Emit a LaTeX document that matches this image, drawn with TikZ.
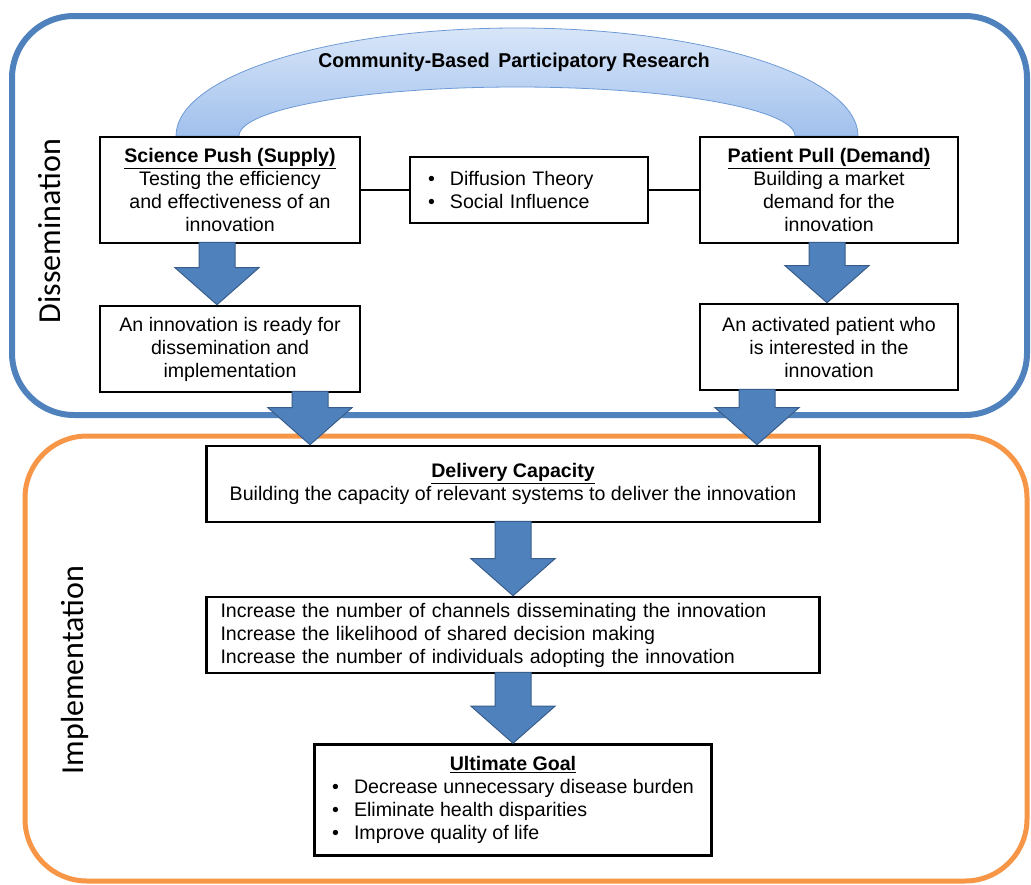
\documentclass[tikz,border=0pt]{standalone}
\usepackage{fontspec}
\setmainfont{Liberation Sans}
\newfontfamily\labelfont{Carlito}
\newfontfamily\narrowbold[FakeStretch=0.97]{Liberation Sans}
\usetikzlibrary{calc}
\definecolor{frameblue}{HTML}{4F81BD}
\definecolor{arrowfill}{HTML}{4F81BD}
\definecolor{arrowedge}{HTML}{385D8A}
\definecolor{frameorange}{HTML}{F79646}
\definecolor{archtop}{HTML}{D9E6F9}
\definecolor{archbot}{HTML}{A0C0EC}
\definecolor{archedge}{HTML}{6E9BD6}
\tikzset{
  box/.style={draw=black, line width=2.6pt, fill=white, align=center, inner sep=0pt,
    font=\fontsize{19.6}{23}\selectfont},
  blockarrow/.style={fill=arrowfill, draw=arrowedge, line width=1pt, line join=miter},
  link/.style={draw=black, line width=1.3pt},
  sectionlabel/.style={font=\labelfont\fontsize{32}{34}\selectfont, rotate=90},
}
\newcommand\bigarrow[2]{%
  \path let \p1=(#1), \p2=(#2) in
    [blockarrow] (\x1-18pt,\y1) -- (\x1+18pt,\y1) -- (\x1+18pt,\y2+37pt)
    -- (\x1+42pt,\y2+37pt) -- (\x1,\y2) -- (\x1-42pt,\y2+37pt)
    -- (\x1-18pt,\y2+37pt) -- cycle;}
\begin{document}
\begin{tikzpicture}[x=1pt,y=-1pt]
\useasboundingbox (0,0) rectangle (1031,884);
% frames
\draw[frameblue, line width=6pt, rounded corners=62pt] (12,16) rectangle (1027,415);
\draw[frameorange, line width=5pt, rounded corners=62pt] (25,436) rectangle (1027,881);
\node[sectionlabel] (dlab) at (50,231) {Dissemination};
\node[sectionlabel] (ilab) at (75,670) {Implementation};
% arch
\path[top color=archtop, bottom color=archbot, draw=archedge, line width=0.8pt]
  (176,136) arc[start angle=180, end angle=360, x radius=341, y radius=108]
  -- (795,136) arc[start angle=0, end angle=-180, x radius=278, y radius=49] -- cycle;
\node[font=\narrowbold\bfseries\fontsize{20}{22}\selectfont] (cbpr) at (514,62) {Community-Based\, Participatory Research};
% boxes
\node[box, minimum width=260pt, minimum height=106pt] (sp) at (230,190)
  {\underline{\textbf{Science Push (Supply)}}\\Testing the efficiency\\and effectiveness of an\\innovation};
\node[box, minimum height=66pt, text width=202pt, inner xsep=18pt, align=left] (diff) at (529,190)
  {\makebox[22pt][l]{\textbullet}Diffusion Theory\\\makebox[22pt][l]{\textbullet}Social Influence};
\node[box, minimum width=258pt, minimum height=106pt] (pp) at (829,190)
  {\underline{\textbf{Patient Pull (Demand)}}\\Building a market\\demand for the\\innovation};
\node[box, minimum width=260pt, minimum height=86pt] (ready) at (230,349)
  {An innovation is ready for\\dissemination and\\implementation};
\node[box, minimum width=258pt, minimum height=86pt] (act) at (829,347)
  {An activated patient who\\is interested in the\\innovation};
\node[box, minimum width=613pt, minimum height=76pt] (deliv) at (513,484)
  {\underline{\textbf{Delivery Capacity}}\\Building the capacity of relevant systems to deliver the innovation};
\node[box, minimum height=76pt, text width=585pt, inner xsep=14pt, align=left] (inc) at (513,635)
  {Increase the number of channels disseminating the innovation\\Increase the likelihood of shared decision making\\Increase the number of individuals adopting the innovation};
\node[box, minimum width=397pt, minimum height=111pt] (goal) at (513,800)
  {\begin{tabular}{@{}l@{}l@{}}
   \multicolumn{2}{c}{\underline{\textbf{Ultimate Goal}}}\\
   \makebox[22pt][l]{\textbullet}&Decrease unnecessary disease burden\\
   \makebox[22pt][l]{\textbullet}&Eliminate health disparities\\
   \makebox[22pt][l]{\textbullet}&Improve quality of life
   \end{tabular}};
% connectors
\draw[link] (sp.east) -- (diff.west);
\draw[link] (diff.east) -- (pp.west);
% block arrows
\bigarrow{$(sp.south)+(-13,-2)$}{$(ready.north)+(-13,0)$}
\bigarrow{$(pp.south)+(-2,-2)$}{$(act.north)+(-2,0)$}
\bigarrow{$(ready.south)+(80,-2)$}{$(deliv.north -| ready.south)+(80,0)$}
\bigarrow{$(act.south)+(-72,-2)$}{$(deliv.north -| act.south)+(-72,0)$}
\bigarrow{$(deliv.south)+(0,-2)$}{$(inc.north)$}
\bigarrow{$(inc.south)+(0,-2)$}{$(goal.north)$}
\end{tikzpicture}
\end{document}
